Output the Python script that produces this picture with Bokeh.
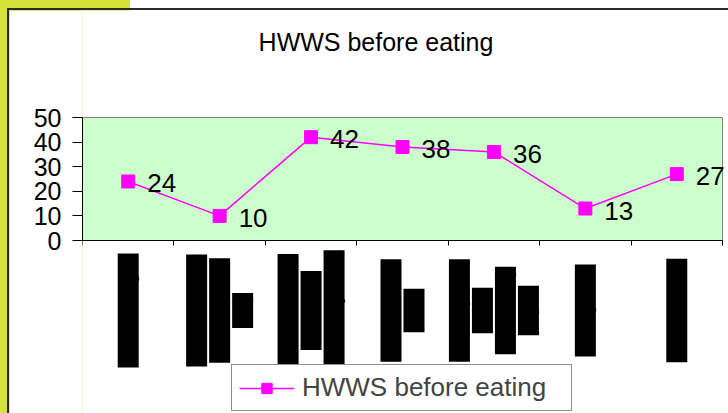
import math
from bokeh.plotting import figure
from bokeh.models import (Range1d, FixedTicker, LabelSet, ColumnDataSource,
                          Legend, LegendItem)
from bokeh.layouts import column
from bokeh.core.properties import value
from bokeh.embed import file_html
from bokeh.resources import INLINE

# ---------------- data ----------------
title_text = "HWWS before eating"
series_name = "HWWS before eating"
values = [24, 10, 42, 38, 36, 13, 27]
category_lines = [
    ["Rural villages"],
    ["Urban school", "and daycare", "only"],
    ["Health centre", "visitors in", "the study area"],
    ["Street foods", "stalls"],
    ["Primary and", "lower", "secondary", "pupils"],
    ["Caregivers"],
    ["Other adults"],
]
y_ticks = [0, 10, 20, 30, 40, 50]
y_max = 50

# ---------------- style / layout ----------------
FONT = "Liberation Sans"
MAGENTA = "#FF00FF"
n = len(values)
xs = [i + 0.5 for i in range(n)]

PX_X = 640 / n          # pixels per category
PX_Y = 123 / y_max      # pixels per y unit
FRAME_W = 719 - 73
FRAME_H = 403
Y_TOP = 230 / PX_Y
Y_BOT = -(FRAME_H - 230) / PX_Y

p = figure(width=719, height=403,
           x_range=Range1d(0, FRAME_W / PX_X), y_range=Range1d(Y_BOT, Y_TOP),
           output_backend="svg", toolbar_location=None,
           min_border_left=73, min_border_right=0,
           min_border_top=0, min_border_bottom=0,
           background_fill_color="white", border_fill_color="white",
           outline_line_color=None, margin=(10, 0, 0, 9))
p.title.visible = False
p.xgrid.visible = False
p.ygrid.visible = False

# plot area
p.quad(left=[0], right=[n], bottom=[0], top=[y_max],
       fill_color="#CCFFCC", line_color="#808080", line_width=1)

# y axis
p.yaxis.bounds = (0, y_max)
p.yaxis.ticker = FixedTicker(ticks=y_ticks, minor_ticks=[])
p.yaxis.axis_line_color = "black"
p.yaxis.major_tick_line_color = "black"
p.yaxis.major_tick_out = 10
p.yaxis.major_tick_in = 0
p.yaxis.minor_tick_line_color = None
p.yaxis.major_label_standoff = 11
p.yaxis.major_label_text_font = FONT
p.yaxis.major_label_text_font_size = "25px"
p.yaxis.major_label_text_color = "black"

# x axis at y = 0, ticks between categories
p.xaxis.fixed_location = 0
p.xaxis.bounds = (0, n)
p.xaxis.ticker = FixedTicker(ticks=[], minor_ticks=list(range(n + 1)))
p.xaxis.axis_line_color = "black"
p.xaxis.minor_tick_line_color = "black"
p.xaxis.minor_tick_out = 5
p.xaxis.minor_tick_in = 0
p.xaxis.major_tick_line_color = None
p.xaxis.major_tick_out = 0
p.xaxis.major_label_text_font_size = "0px"

# series
r_line = p.line(xs, values, line_color=MAGENTA, line_width=1.5)
r_pts = p.scatter(xs, values, marker="square", size=13,
                  fill_color=MAGENTA, line_color=MAGENTA)
p.text(xs, values, text=[str(v) for v in values], x_offset=19, y_offset=2,
       text_baseline="middle", text_align="left",
       text_font=value(FONT), text_font_size="26px", text_color="black")

# title
p.text(x=[3.21], y=[80.7], text=[title_text], text_align="center",
       text_baseline="middle", text_font=value(FONT),
       text_font_size="25px", text_color="black")

# category labels (rotated, rendered as black blocks like the reference)
pitch = 23 / PX_X
lx, ly, lt = [], [], []
for i, lines in enumerate(category_lines):
    k = len(lines)
    for j, t in enumerate(lines):
        lx.append(xs[i] + (j - (k - 1) / 2) * pitch)
        ly.append(-70 / PX_Y)
        lt.append(t)
src = ColumnDataSource(dict(x=lx, y=ly, text=lt))
p.add_layout(LabelSet(x="x", y="y", text="text", source=src, angle=math.pi / 2,
                      text_align="center", text_baseline="middle",
                      text_font=value(FONT), text_font_size=value("19px"),
                      text_color="black", background_fill_color="black"))

# legend
legend = Legend(items=[LegendItem(label=series_name, renderers=[r_line, r_pts])],
                location=(149, 2), orientation="vertical",
                border_line_color="#222222", border_line_width=1,
                background_fill_color="white", background_fill_alpha=1,
                label_text_font=FONT, label_text_font_size="26px",
                glyph_width=55, glyph_height=26, label_standoff=8,
                label_width=262, padding=7, margin=0, spacing=0)
p.add_layout(legend)

bg = ("linear-gradient(#2b2b2b,#2b2b2b) 7px 8px / 2px 100% no-repeat, "
      "linear-gradient(#2b2b2b,#2b2b2b) 7px 8px / 100% 2px no-repeat, "
      "linear-gradient(to right, #D5E338 130px, #ffffff 130px)")
layout = column(p, styles={"background": bg})

open("out.html", "w").write(file_html(layout, INLINE))
